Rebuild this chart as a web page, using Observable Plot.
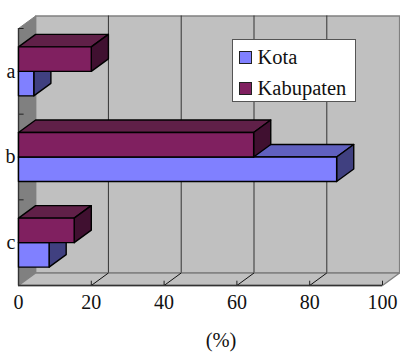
<!DOCTYPE html>
<html><head><meta charset="utf-8">
<script src="https://cdn.jsdelivr.net/npm/d3@7"></script>
<script src="https://cdn.jsdelivr.net/npm/@observablehq/plot@0.6"></script>
<style>
html,body{margin:0;padding:0;background:#fff;overflow:hidden}
#wrap{position:relative;width:400px;height:353px;font-family:"Liberation Serif",serif;color:#111}
#wrap svg{display:block}
#legend{position:absolute;left:232px;top:39px;width:122px;height:61px;background:#fff;border:1px solid #555;box-sizing:content-box;font-size:20.5px}
#legend .row{position:absolute;left:6px;display:flex;align-items:center;height:20px}
#legend i{display:block;width:11px;height:11px;border:1.5px solid #222;margin-right:5.5px}
#cap{position:absolute;left:201px;width:40px;top:329px;text-align:center;font-size:20.5px;line-height:22px}
</style></head><body>
<div id="wrap"></div>
<script>
const categories = ["a", "b", "c"];
const kota = [4.2, 87.4, 8.4];
const kabupaten = [20, 64.6, 15.3];
const gridValues = [20, 40, 60, 80, 100];
const wallTicks = [0, 1, 2];
const seriesStyle = {
  kota: {front: "#8080ff", top: "#6060bf", side: "#404080"},
  kabupaten: {front: "#802060", top: "#602048", side: "#401030"}
};
const depthX = 4.7, depthY = 0.146, barH = 0.286;
const top3 = 0, bottom3 = 3;

const poly = (pts, fill, stroke, strokeWidth) =>
  Plot.line([...pts, pts[0]].map(([x, y]) => ({x, y})),
    {x: "x", y: "y", fill, stroke, strokeWidth});

function bar(value, y0, y1, s) {
  return [
    poly([[0, y0], [depthX, y0 - depthY], [value + depthX, y0 - depthY], [value, y0]], s.top, "#000", 1.4),
    poly([[value, y0], [value + depthX, y0 - depthY], [value + depthX, y1 - depthY], [value, y1]], s.side, "#000", 1.4),
    poly([[0, y0], [value, y0], [value, y1], [0, y1]], s.front, "#000", 1.4)
  ];
}

const marks = [
  poly([[depthX, top3 - depthY], [100 + depthX, top3 - depthY], [100 + depthX, bottom3 - depthY], [depthX, bottom3 - depthY]], "#c0c0c0", "#808080", 1.4),
  poly([[0, top3], [depthX, top3 - depthY], [depthX, bottom3 - depthY], [0, bottom3]], "#808080", "#808080", 1),
  poly([[0, bottom3], [100, bottom3], [100 + depthX, bottom3 - depthY], [depthX, bottom3 - depthY]], "#c0c0c0", "#808080", 1.4),
  Plot.ruleX(gridValues.slice(0, 4), {x: d => d + depthX, y1: top3 - depthY, y2: bottom3 - depthY, stroke: "#333", strokeWidth: 1}),
  Plot.link(gridValues.slice(0, 4), {x1: d => d + depthX, y1: bottom3 - depthY, x2: d => d, y2: bottom3, stroke: "#111", strokeWidth: 1}),
  Plot.link(wallTicks, {x1: 0, x2: 1.4, y1: d => d, y2: d => d, stroke: "#222", strokeWidth: 1}),
  Plot.ruleX([0], {y1: top3, y2: bottom3, stroke: "#333", strokeWidth: 1.4}),
  Plot.ruleY([bottom3], {x1: 0, x2: 100, stroke: "#333", strokeWidth: 1.6}),
  Plot.ruleX(gridValues, {x: d => d, y1: bottom3 - 0.05, y2: bottom3, stroke: "#222"})
];
categories.forEach((c, i) => {
  const mid = i + 0.5;
  marks.push(...bar(kota[i], mid, mid + barH, seriesStyle.kota));
  marks.push(...bar(kabupaten[i], mid - barH, mid, seriesStyle.kabupaten));
});
marks.push(
  Plot.axisX({ticks: [0, ...gridValues], tickSize: 0, tickPadding: 9, fontSize: 20, fill: "#111", label: null}),
  Plot.axisY({ticks: categories.map((c, i) => i + 0.5), tickFormat: d => categories[d - 0.5], tickSize: 0, tickPadding: 3, fontSize: 20, fill: "#111", label: null})
);

const chart = Plot.plot({
  width: 400, height: 320,
  marginLeft: 18, marginRight: 18, marginTop: 28, marginBottom: 35,
  style: {fontFamily: "Liberation Serif, serif", background: "#fff", overflow: "visible"},
  x: {domain: [0, 100]},
  y: {domain: [3, 0]},
  marks
});
const wrap = document.getElementById("wrap");
wrap.appendChild(chart);

const legend = document.createElement("div");
legend.id = "legend";
legend.innerHTML = `<div class="row" style="top:7px"><i style="background:${seriesStyle.kota.front}"></i>Kota</div>
<div class="row" style="top:38px"><i style="background:${seriesStyle.kabupaten.front}"></i>Kabupaten</div>`;
wrap.appendChild(legend);
const cap = document.createElement("div");
cap.id = "cap"; cap.textContent = "(%)";
wrap.appendChild(cap);
</script>
</body></html>
